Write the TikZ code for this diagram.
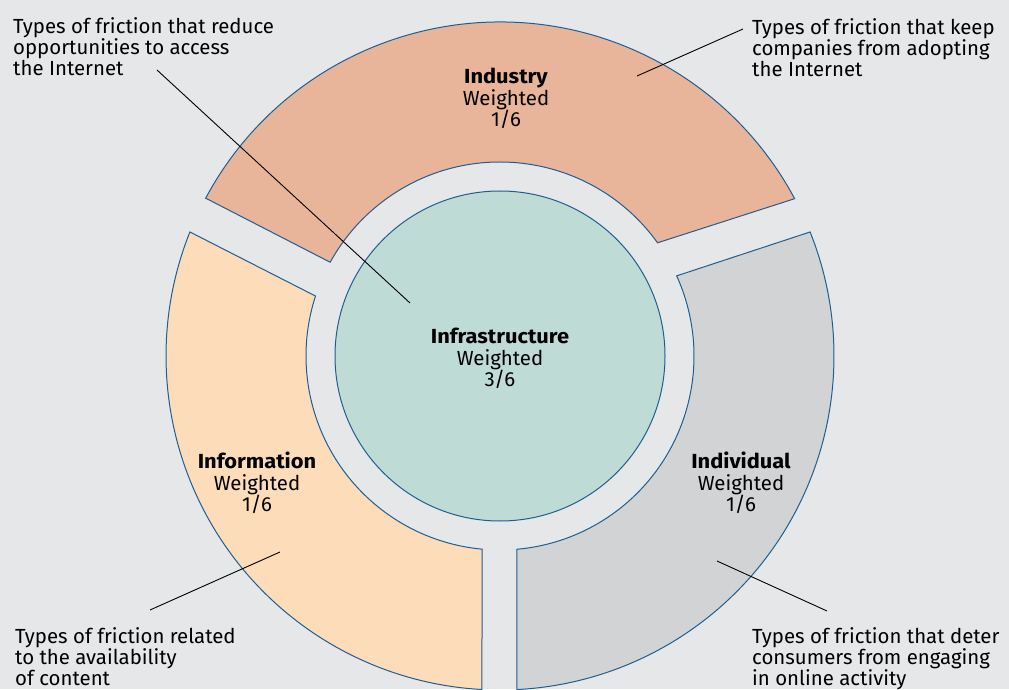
\documentclass[tikz,border=0pt]{standalone}
\usepackage{fontspec}
\setmainfont{Fira Sans}[BoldFeatures = {FakeStretch = 1.07}]

\definecolor{backdrop}{HTML}{E6E7E8}
\definecolor{industry}{HTML}{E9B59A}
\definecolor{information}{HTML}{FDDCBA}
\definecolor{individual}{HTML}{D1D3D4}
\definecolor{core}{HTML}{BFDBD5}
\definecolor{outline}{HTML}{1D5F94}

\begin{document}
\begin{tikzpicture}[x = 1pt, y = 1pt,
	segment/.style = {draw = outline, line width = 1pt},
	leader/.style = {draw = black, line width = 0.9pt},
	note/.style = {anchor = north west, align = left, inner sep = 0pt, font = \fontsize{20.4}{21}\selectfont},
	weight/.style = {anchor = north, align = center, inner sep = 0pt, font = \fontsize{20.4}{21.5}\selectfont}]

	% Definitions

	\def\Ri{194}	% Inner radius of the ring
	\def\Ro{334}	% Outer radius of the ring
	\def\Rc{165}	% Radius of the core

	% Background

	\useasboundingbox (0, 0) rectangle (1009, 689);
	\fill [backdrop] (0, 0) rectangle (1009, 689);

	% Ring segments and core

	\begin{scope}[shift = {(500, 333)}]
		\filldraw [segment, fill = industry] (151.8 : \Ro) arc [start angle = 151.8, end angle = 28.1, radius = \Ro]
			-- (35.7 : \Ri) arc [start angle = 35.7, end angle = 151.1, radius = \Ri] -- cycle;
		\filldraw [segment, fill = individual] (21.8 : \Ro) arc [start angle = 21.8, end angle = -87.1, radius = \Ro]
			-- (-85 : \Ri) arc [start angle = -85, end angle = 24.4, radius = \Ri] -- cycle;
		\filldraw [segment, fill = information] (158.2 : \Ro) arc [start angle = 158.2, end angle = 266.9, radius = \Ro]
			-- (264.7 : \Ri) arc [start angle = 264.7, end angle = 162, radius = \Ri] -- cycle;
		\filldraw [segment, fill = core] (0, 0) circle (\Rc);
	\end{scope}

	% Weights

	\node [weight] (industry) at (506, 621) {\textbf{Industry}\\Weighted\\1/6};
	\node [weight] (infrastructure) at (500, 361) {\textbf{Infrastructure}\\Weighted\\3/6};
	\node [weight] (information) at (257, 237) {\textbf{Information}\\Weighted\\1/6};
	\node [weight] (individual) at (741, 237) {\textbf{Individual}\\Weighted\\1/6};

	% Notes

	\node [note] (note-access) at (13, 672) {Types of friction that reduce\\opportunities to access\\the Internet};
	\node [note] (note-adopt) at (752, 671) {Types of friction that keep\\companies from adopting\\the Internet};
	\node [note] (note-content) at (15, 62) {Types of friction related\\to the availability\\of content};
	\node [note] (note-engage) at (752, 62) {Types of friction that deter\\consumers from engaging\\in online activity};

	% Leader lines

	\coordinate (access-a) at (157, 619);
	\coordinate (access-b) at (410, 386);
	\coordinate (adopt-a) at (743, 660);
	\coordinate (adopt-b) at (637, 613);
	\coordinate (content-a) at (150, 79);
	\coordinate (content-b) at (280, 137);
	\coordinate (engage-a) at (827, 78);
	\coordinate (engage-b) at (717, 128);

	\draw [leader] (access-a) -- (access-b);
	\draw [leader] (adopt-a) -- (adopt-b);
	\draw [leader] (content-a) -- (content-b);
	\draw [leader] (engage-a) -- (engage-b);

\end{tikzpicture}
\end{document}
